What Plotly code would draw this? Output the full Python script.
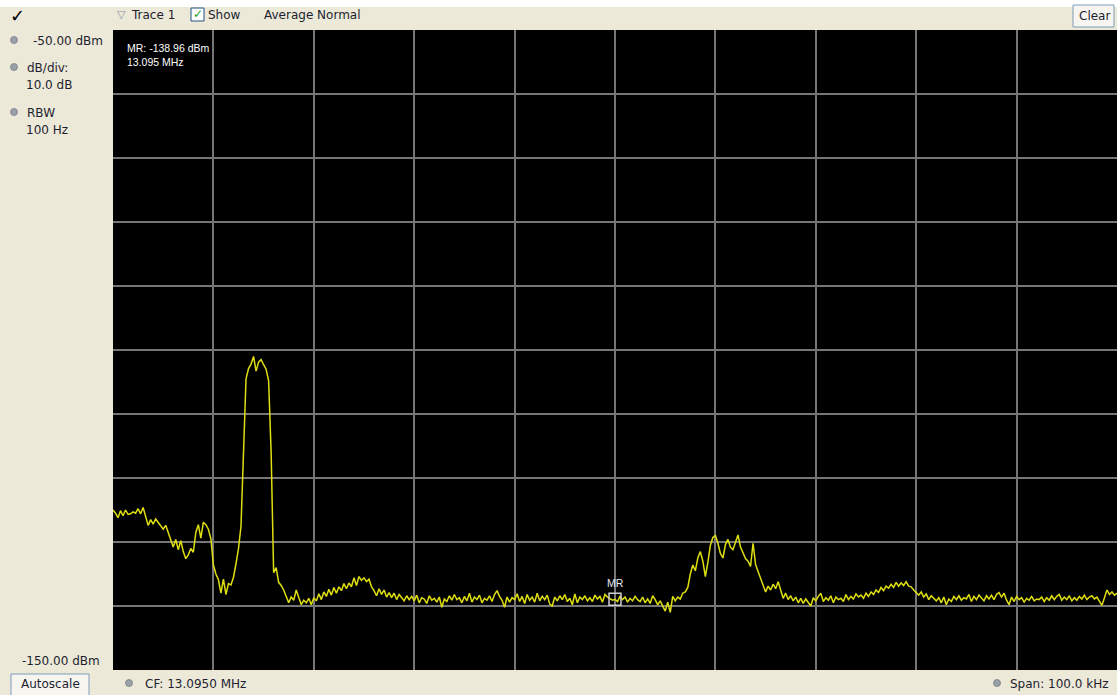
import plotly.graph_objects as go

# ---------------- data ----------------
center_mhz = 13.095
span_mhz = 0.100
n_points = 401
ref_level = -50.0
db_per_div = 10.0
n_div = 10
marker_freq = 13.095
marker_level = -138.96

trace_dbm = [
    -125.0, -125.5, -126.2, -125.1, -125.9, -125.0, -125.7, -125.6, -125.3, -125.5,
    -124.8, -125.6, -124.6, -126.0, -127.4, -126.5, -127.2, -126.4, -126.9, -127.5,
    -128.0, -127.4, -128.6, -129.5, -130.8, -129.6, -131.2, -129.8, -131.5, -132.6,
    -132.0, -131.0, -131.6, -128.5, -127.3, -129.4, -126.9, -127.3, -128.0, -129.5,
    -133.6, -135.0, -135.9, -138.0, -135.8, -138.2, -136.5, -136.7, -135.5, -133.4,
    -131.0, -127.5, -116.0, -104.5, -102.9, -102.2, -101.0, -103.3, -101.9, -101.5,
    -102.3, -103.0, -104.8, -116.0, -134.8, -134.0, -136.3, -136.8, -137.5, -138.6,
    -139.5, -138.6, -139.1, -137.5, -138.6, -139.8, -139.1, -139.5, -138.8, -139.8,
    -138.7, -139.2, -138.1, -139.0, -137.8, -138.5, -137.4, -138.3, -137.1, -138.0,
    -137.0, -137.6, -136.5, -137.3, -136.4, -137.0, -135.6, -136.8, -135.4, -136.0,
    -135.6, -136.2, -135.8, -137.0, -137.6, -138.4, -137.3, -138.2, -137.5, -138.6,
    -137.9, -138.7, -138.0, -139.0, -138.2, -138.8, -139.2, -138.4, -139.0, -138.5,
    -139.2, -138.3, -139.5, -138.7, -138.9, -139.6, -138.4, -139.1, -138.8, -139.4,
    -138.6, -140.2, -138.9, -139.3, -138.4, -139.1, -138.2, -139.0, -138.7, -139.5,
    -138.5, -139.2, -138.0, -139.4, -138.6, -139.0, -138.3, -139.5, -138.8, -139.1,
    -138.4, -139.3, -138.2, -137.6, -138.5, -139.1, -140.2, -138.6, -139.4, -138.7,
    -139.0, -138.1, -139.3, -138.5, -139.6, -138.2, -139.1, -138.6, -139.4, -138.0,
    -139.2, -138.5, -139.0, -138.3, -139.7, -140.0, -138.6, -139.2, -138.4, -139.0,
    -138.2, -139.3, -138.8, -139.8, -138.1, -139.5, -138.6, -139.0, -138.4, -139.2,
    -138.7, -139.3, -138.3, -138.9, -138.5, -139.4, -138.2, -138.6, -138.9, -139.1,
    -138.96, -139.3, -138.5, -139.0, -138.6, -139.4, -138.8, -139.2, -138.5, -139.0,
    -139.3, -138.6, -139.5, -138.9, -139.6, -138.4, -139.0, -139.8, -139.2, -140.0,
    -140.8, -139.4, -141.0, -138.5, -139.2, -138.6, -138.9, -138.0, -137.8, -137.1,
    -135.0, -133.6, -134.5, -132.5, -131.5, -133.0, -135.4, -133.2, -130.5, -129.3,
    -129.0, -130.2, -131.8, -132.5, -130.4, -129.6, -130.8, -131.2, -129.9, -128.9,
    -130.8, -131.6, -132.6, -133.0, -133.8, -130.2, -133.5, -134.6, -135.7, -136.6,
    -137.8, -136.9, -137.5, -136.6, -137.3, -136.2, -137.4, -138.8, -138.0, -139.0,
    -138.4, -139.2, -138.6, -139.5, -138.8, -139.6, -138.9, -139.4, -140.0, -138.7,
    -139.2, -138.5, -138.0, -139.3, -138.7, -139.1, -138.4, -139.5, -138.6, -139.0,
    -138.8, -139.3, -138.2, -139.0, -138.5, -138.9, -138.1, -138.6, -138.3, -138.8,
    -138.0, -138.5, -137.8, -138.2, -137.5, -137.9, -137.1, -137.6, -136.9, -137.2,
    -136.6, -137.1, -136.3, -136.9, -136.4, -136.8, -136.2, -136.9, -137.0, -137.5,
    -137.9, -138.3, -137.8, -138.6, -138.1, -139.0, -138.4, -138.8, -139.2, -138.7,
    -139.5, -138.6, -139.8, -138.9, -139.3, -138.5, -139.0, -138.4, -139.1, -138.7,
    -138.9, -138.2, -139.3, -138.5, -139.0, -138.3, -138.8, -139.2, -138.4, -138.9,
    -138.3, -139.0, -138.2, -137.9, -138.6, -138.0, -139.1, -139.8, -138.6, -139.3,
    -138.5, -139.0, -138.7, -139.4, -138.8, -139.1, -138.5, -139.2, -138.9, -139.0,
    -138.6, -139.3, -138.7, -139.1, -138.4, -139.0, -138.5, -138.2, -139.1, -138.6,
    -139.0, -138.4, -139.2, -138.7, -139.1, -138.5, -138.9, -138.3, -139.0, -138.6,
    -138.4, -138.9, -138.6, -139.3, -139.9, -138.7, -137.5, -138.2, -137.8, -138.3,
    -138.0,
]

start_mhz = center_mhz - span_mhz / 2
stop_mhz = center_mhz + span_mhz / 2
step_mhz = span_mhz / (n_points - 1)
freqs = [start_mhz + i * step_mhz for i in range(n_points)]
bottom_level = ref_level - db_per_div * n_div

# ---------------- layout geometry (pixels) ----------------
W, H = 1117, 695
L, R, T, B = 113, 1117, 30, 670


def fx(x):
    return (x - L) / (R - L)


def fy(y):
    return (B - y) / (B - T)


UI_FONT = "DejaVu Sans"
UI_COLOR = "#1e1e30"
BG = "#ECE9D8"

fig = go.Figure()
fig.add_trace(go.Scatter(
    x=freqs, y=trace_dbm, mode="lines",
    line=dict(color="#dede10", width=1.5),
    hoverinfo="skip", showlegend=False,
))
fig.add_trace(go.Scatter(
    x=[marker_freq], y=[marker_level], mode="markers",
    marker=dict(symbol="square-open", size=12, color="#d0d0d0", line=dict(width=1.5)),
    hoverinfo="skip", showlegend=False,
))

annotations = []


def text(x, y, s, size=11.5, color=UI_COLOR, family=UI_FONT, anchor="left"):
    annotations.append(dict(
        x=fx(x), y=fy(y), xref="paper", yref="paper", text=s, showarrow=False,
        xanchor=anchor, yanchor="middle",
        font=dict(family=family, size=size, color=color),
    ))


# top bar
text(8, 15, "<b><i>✓</i></b>", size=18, color="#000000")
text(115, 14, "▽", size=11, color="#8a95a8")
text(129, 15, "Trace 1", size=12)
text(206, 15, "Show", size=12)
text(262, 15, "Average Normal", size=12)
text(1094, 16, "Clear", size=12, anchor="center")
text(198, 14, "<b>✓</b>", size=12, color="#22a022", anchor="center")

# left panel
text(31, 41, "-50.00 dBm", size=12)
text(25, 68, "dB/div:", size=12)
text(24, 85, "10.0 dB", size=12)
text(25, 113, "RBW", size=12)
text(24, 130, "100 Hz", size=12)
text(102, 661, "-150.00 dBm", size=12, anchor="right")
text(50, 684, "Autoscale", size=12, anchor="center")

# bottom bar
text(143, 684, "CF: 13.0950 MHz", size=12)
text(1111, 684, "Span: 100.0 kHz", size=12, anchor="right")

# marker readout inside plot
text(125, 48, "MR: -138.96 dBm", size=10.5, color="#ffffff", family="Liberation Sans")
text(125, 62, "13.095 MHz", size=10.5, color="#ffffff", family="Liberation Sans")

annotations.append(dict(
    x=marker_freq, y=marker_level, xref="x", yref="y", text="MR", showarrow=False,
    yshift=16, font=dict(family="Liberation Sans", size=10.5, color="#e8e8f0"),
))

shapes = []


def rect(x0, y0, x1, y1, fill, line_color=None, lw=1, layer="below"):
    shapes.append(dict(
        type="rect", xref="paper", yref="paper",
        x0=fx(x0), x1=fx(x1), y0=fy(y1), y1=fy(y0),
        fillcolor=fill, layer=layer,
        line=dict(color=line_color or fill, width=lw if line_color else 0),
    ))


def dot(x, y, r=3.5):
    shapes.append(dict(
        type="circle", xref="paper", yref="paper",
        x0=fx(x - r), x1=fx(x + r), y0=fy(y + r), y1=fy(y - r),
        fillcolor="#9aa0a8", line=dict(color="#7a8088", width=0.8), layer="above",
    ))


rect(0, 0, W, 7, "#ffffff")
rect(1073, 5, 1114, 27, "#f6f5f0", "#7f9db9", 1, layer="above")
rect(11, 674, 89, 697, "#f6f5f0", "#7f9db9", 1, layer="above")
rect(191, 8, 204, 21, "#ffffff", "#1c5180", 1, layer="above")
dot(14, 40)
dot(14, 67)
dot(14, 112)
dot(129, 683)
dot(997, 683)

grid = dict(showgrid=True, gridcolor="#767676", gridwidth=1.6, zeroline=False,
            showticklabels=False, ticks="", showline=False, fixedrange=True)

fig.update_layout(
    width=W, height=H,
    margin=dict(l=L, r=W - R, t=T, b=H - B, pad=0),
    paper_bgcolor=BG, plot_bgcolor="#000000",
    xaxis=dict(range=[start_mhz, stop_mhz], dtick=span_mhz / n_div, tick0=start_mhz, **grid),
    yaxis=dict(range=[bottom_level, ref_level], dtick=db_per_div, tick0=bottom_level, **grid),
    annotations=annotations, shapes=shapes, showlegend=False,
)

fig.write_html("out.html", config={"displayModeBar": False})
